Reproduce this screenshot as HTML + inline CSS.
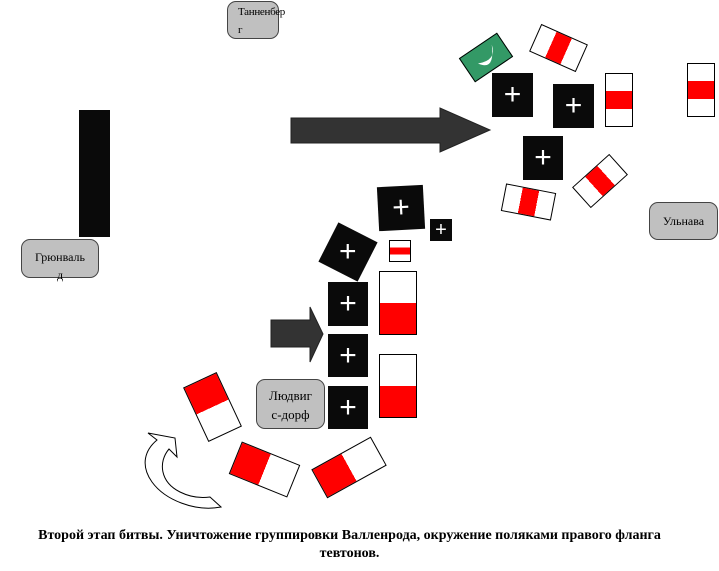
<!DOCTYPE html>
<html><head><meta charset="utf-8"><style>
body{margin:0;width:719px;height:571px;background:#fff;position:relative;overflow:hidden;font-family:"Liberation Serif",serif;}
.a{position:absolute;box-sizing:border-box;}
.sq{background:#0a0a0a;color:#fff;font-family:"Liberation Sans",sans-serif;font-size:30px;line-height:1;display:flex;align-items:center;justify-content:center;}
.box{background:#c0c0c0;border:1.5px solid #444;border-radius:9px;font-size:12px;text-align:center;line-height:18px;}
.fh{border:1.5px solid #000;background:linear-gradient(90deg,#fff 33%,#f00 33%,#f00 67%,#fff 67%);}
.fv{border:1.5px solid #000;background:linear-gradient(180deg,#fff 33%,#f00 33%,#f00 67%,#fff 67%);}
.fh2{border:1.5px solid #000;background:linear-gradient(90deg,#f00 50%,#fff 50%);}
.fv2{border:1.5px solid #000;background:linear-gradient(180deg,#fff 50%,#f00 50%);}
</style></head><body>
<div class="a box" style="left:227px;top:1px;width:52px;height:38px;text-align:left;padding-left:10px;padding-top:1px;font-size:11px;letter-spacing:-0.3px;">Танненбер<br>г</div>
<div class="a box" style="left:21px;top:239px;width:78px;height:39px;padding-top:8px;">Грюнваль<br>д</div>
<div class="a" style="left:79px;top:110px;width:31px;height:127px;background:#0a0a0a;"></div>
<svg class="a" style="left:0;top:0" width="719" height="571">
<polygon points="291,118 440,118 440,108 490,130 440,152 440,143 291,143" fill="#333" stroke="#222"/>
<polygon points="271,320 310,320 310,307 323,334 310,362 310,347 271,347" fill="#333" stroke="#222"/>
<path d="M148,433 L175,438 L177,457 L169,449 C158,462 160,482 180,492 C192,498 203,498 210,497 L221,507 C195,512 165,500 152,482 C140,465 145,450 157,440 Z" fill="#fff" stroke="#000" stroke-width="1"/>
</svg>
<div class="a" style="left:463px;top:43px;width:46px;height:29px;background:#339966;border:1.5px solid #000;transform:rotate(-34deg);overflow:hidden;">
<svg width="46" height="29" style="position:absolute;left:0;top:0"><path d="M12,14 Q22,30 34,6 Q30,22 12,14Z" fill="#fff"/></svg></div>
<div class="a fh" style="left:533px;top:33px;width:51px;height:30px;transform:rotate(24deg);"></div>
<div class="a sq" style="left:492px;top:73px;width:41px;height:44px;">+</div>
<div class="a sq" style="left:553px;top:84px;width:41px;height:44px;">+</div>
<div class="a fv" style="left:605px;top:73px;width:28px;height:54px;"></div>
<div class="a fv" style="left:687px;top:63px;width:28px;height:54px;"></div>
<div class="a sq" style="left:523px;top:136px;width:40px;height:44px;">+</div>
<div class="a fh" style="left:503px;top:188px;width:51px;height:28px;transform:rotate(11deg);"></div>
<div class="a fh" style="left:575px;top:167px;width:50px;height:28px;transform:rotate(-42deg);"></div>
<div class="a box" style="left:649px;top:202px;width:69px;height:38px;padding-top:9px;">Ульнава</div>
<div class="a sq" style="left:326px;top:230px;width:44px;height:44px;transform:rotate(27deg);"><span style="transform:rotate(-27deg)">+</span></div>
<div class="a sq" style="left:378px;top:186px;width:46px;height:44px;transform:rotate(-3deg);">+</div>
<div class="a sq" style="left:430px;top:219px;width:22px;height:22px;font-size:20px;">+</div>
<div class="a fv" style="left:389px;top:240px;width:22px;height:22px;"></div>
<div class="a sq" style="left:328px;top:282px;width:40px;height:44px;">+</div>
<div class="a sq" style="left:328px;top:334px;width:40px;height:43px;">+</div>
<div class="a sq" style="left:328px;top:386px;width:40px;height:43px;">+</div>
<div class="a fv2" style="left:379px;top:271px;width:38px;height:64px;"></div>
<div class="a fv2" style="left:379px;top:354px;width:38px;height:64px;"></div>
<div class="a box" style="left:256px;top:379px;width:69px;height:50px;padding-top:6px;font-size:13px;line-height:19px;">Людвиг<br>с-дорф</div>
<div class="a" style="left:194px;top:377px;width:37px;height:60px;border:1.5px solid #000;background:linear-gradient(180deg,#f00 50%,#fff 50%);transform:rotate(-25deg);"></div>
<div class="a fh2" style="left:233px;top:452px;width:63px;height:35px;transform:rotate(22deg);"></div>
<div class="a fh2" style="left:315px;top:451px;width:68px;height:33px;transform:rotate(-29deg);"></div>
<div class="a" style="left:0;top:527px;width:699px;text-align:center;font-weight:bold;font-size:14px;line-height:18px;">Второй этап битвы. Уничтожение группировки Валленрода, окружение поляками правого фланга<br>тевтонов.</div>
</body></html>
